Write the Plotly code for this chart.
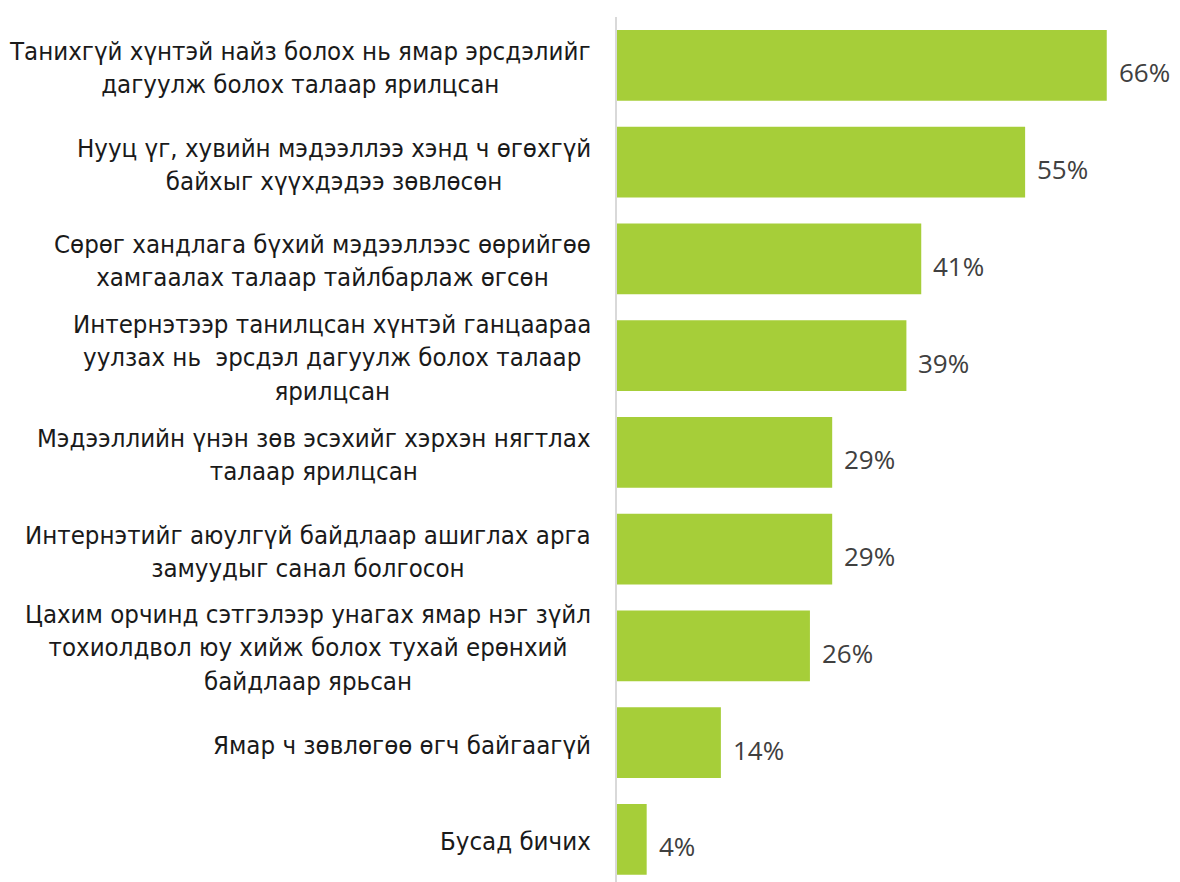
import plotly.graph_objects as go

# Survey answers (top to bottom) and their shares in percent
categories = [
    "Танихгүй хүнтэй найз болох нь ямар эрсдэлийг<br>дагуулж болох талаар ярилцсан",
    "Нууц үг, хувийн мэдээллээ хэнд ч өгөхгүй<br>байхыг хүүхдэдээ зөвлөсөн",
    "Сөрөг хандлага бүхий мэдээллээс өөрийгөө<br>хамгаалах талаар тайлбарлаж өгсөн",
    "Интернэтээр танилцсан хүнтэй ганцаараа<br>уулзах нь  эрсдэл дагуулж болох талаар<br>ярилцсан",
    "Мэдээллийн үнэн зөв эсэхийг хэрхэн нягтлах<br>талаар ярилцсан",
    "Интернэтийг аюулгүй байдлаар ашиглах арга<br>замуудыг санал болгосон",
    "Цахим орчинд сэтгэлээр унагах ямар нэг зүйл<br>тохиолдвол юу хийж болох тухай ерөнхий<br>байдлаар ярьсан",
    "Ямар ч зөвлөгөө өгч байгаагүй",
    "Бусад бичих",
]
values = [66, 55, 41, 39, 29, 29, 26, 14, 4]
value_labels = ["66%", "55%", "41%", "39%", "29%", "29%", "26%", "14%", "4%"]

BAR_COLOR = "#A6CE39"
LABEL_FONT = "DejaVu Sans Condensed"
VALUE_FONT = "Open Sans"

fig = go.Figure(go.Bar(
    x=values,
    y=categories,
    orientation="h",
    marker=dict(color=BAR_COLOR, line=dict(width=0)),
    hoverinfo="skip",
))

# category labels (centered multi-line, right-aligned block)
for cat in categories:
    fig.add_annotation(
        x=0, xref="paper", y=cat, yref="y",
        text=cat, showarrow=False,
        xanchor="right", yanchor="middle", align="center",
        xshift=-24, yshift=-2,
        font=dict(family=LABEL_FONT, size=25.6, color="#1a1a1a"),
    )

# value labels
for cat, v, lab in zip(categories, values, value_labels):
    fig.add_annotation(
        x=v, y=cat, text=lab, showarrow=False,
        xanchor="left", yanchor="middle", xshift=10, yshift=-7,
        font=dict(family=VALUE_FONT, size=26, color="#404040"),
    )

fig.update_layout(
    width=1180, height=882,
    margin=dict(l=609, r=0, t=9, b=8),
    plot_bgcolor="white", paper_bgcolor="white",
    showlegend=False,
    bargap=0.27,
    xaxis=dict(range=[0, 76.95], visible=False),
    yaxis=dict(
        type="category",
        range=[8.44, -0.5],
        showticklabels=False,
        showgrid=False,
        showline=True, linecolor="#d9d9d9", linewidth=2,
        ticks="",
    ),
)

fig.write_html("out.html")
